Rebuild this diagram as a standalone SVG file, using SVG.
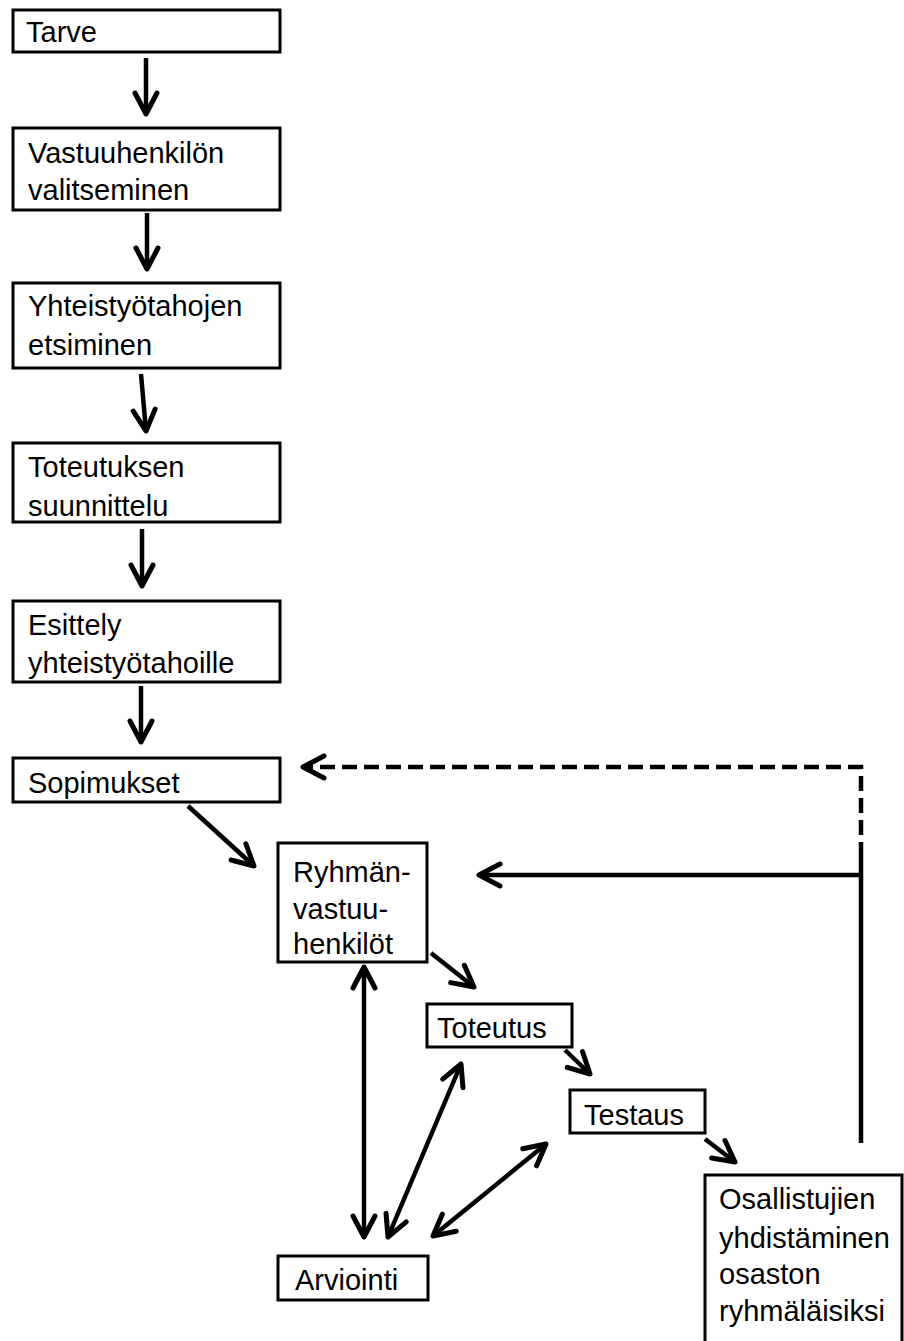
<svg xmlns="http://www.w3.org/2000/svg" width="904" height="1341" viewBox="0 0 904 1341">
<style>
.box{fill:#fff;stroke:#000;stroke-width:3}
.t{font-family:"Liberation Sans",Arial,sans-serif;font-size:29px;fill:#000}
.c{fill:none;stroke:#000;stroke-width:4.5;stroke-linecap:butt}
.d{stroke-dasharray:15 7}
</style>
<defs>
<marker id="ah" markerUnits="userSpaceOnUse" orient="auto-start-reverse" markerWidth="40" markerHeight="40" refX="0" refY="0" viewBox="-30 -20 40 40" overflow="visible">
<path d="M-21,-11 L0,0 L-21,11" fill="none" stroke="#000" stroke-width="5" stroke-linecap="round" stroke-linejoin="round" stroke-dasharray="none"/>
</marker>
</defs>
<rect width="904" height="1341" fill="#fff"/>
<g id="n1"><rect class="box" x="13" y="10" width="267" height="42"/><text class="t" x="26" y="42">Tarve</text></g>
<g id="n2"><rect class="box" x="13" y="128" width="267" height="82"/><text class="t" x="28" y="163">Vastuuhenkilön</text><text class="t" x="28" y="200">valitseminen</text></g>
<g id="n3"><rect class="box" x="13" y="283" width="267" height="85"/><text class="t" x="28" y="316">Yhteistyötahojen</text><text class="t" x="28" y="355">etsiminen</text></g>
<g id="n4"><rect class="box" x="13" y="443" width="267" height="79"/><text class="t" x="28" y="477">Toteutuksen</text><text class="t" x="28" y="516">suunnittelu</text></g>
<g id="n5"><rect class="box" x="13" y="601" width="267" height="81"/><text class="t" x="28" y="635">Esittely</text><text class="t" x="28" y="673">yhteistyötahoille</text></g>
<g id="n6"><rect class="box" x="13" y="758" width="267" height="44"/><text class="t" x="28" y="793">Sopimukset</text></g>
<g id="n7"><rect class="box" x="278" y="843" width="149" height="119"/><text class="t" x="293" y="882">Ryhmän-</text><text class="t" x="293" y="919">vastuu-</text><text class="t" x="293" y="954">henkilöt</text></g>
<g id="n8"><rect class="box" x="427" y="1004" width="145" height="43"/><text class="t" x="437" y="1038">Toteutus</text></g>
<g id="n9"><rect class="box" x="570" y="1090" width="135" height="43"/><text class="t" x="584" y="1125">Testaus</text></g>
<g id="n10"><rect class="box" x="278" y="1256" width="150" height="44"/><text class="t" x="295" y="1290">Arviointi</text></g>
<g id="n11"><rect class="box" x="705" y="1175" width="197" height="170"/><text class="t" x="719" y="1209">Osallistujien</text><text class="t" x="719" y="1248">yhdistäminen</text><text class="t" x="719" y="1284">osaston</text><text class="t" x="719" y="1321">ryhmäläisiksi</text></g>
<g id="connectors">
<line class="c" x1="146" y1="58" x2="146" y2="114" marker-end="url(#ah)"/>
<line class="c" x1="147" y1="213" x2="147" y2="269" marker-end="url(#ah)"/>
<line class="c" x1="141" y1="374" x2="146" y2="431" marker-end="url(#ah)"/>
<line class="c" x1="142" y1="529" x2="142" y2="586" marker-end="url(#ah)"/>
<line class="c" x1="141" y1="686" x2="141" y2="742" marker-end="url(#ah)"/>
<line class="c" x1="188" y1="806" x2="254" y2="866" marker-end="url(#ah)"/>
<line class="c" x1="431" y1="953" x2="474" y2="987" marker-end="url(#ah)"/>
<line class="c" x1="565" y1="1050" x2="590" y2="1074" marker-end="url(#ah)"/>
<line class="c" x1="705" y1="1139" x2="735" y2="1162" marker-end="url(#ah)"/>
<line class="c" x1="364" y1="967" x2="364" y2="1237" marker-start="url(#ah)" marker-end="url(#ah)"/>
<line class="c" x1="461" y1="1064" x2="388" y2="1237" marker-start="url(#ah)" marker-end="url(#ah)"/>
<line class="c" x1="546" y1="1144" x2="433" y2="1236" marker-start="url(#ah)" marker-end="url(#ah)"/>
<polyline class="c d" points="861,857 861,767 303,767" marker-end="url(#ah)"/>
<line class="c" x1="861" y1="857" x2="861" y2="1143"/>
<line class="c" x1="861" y1="875" x2="479" y2="875" marker-end="url(#ah)"/>
</g>
</svg>
